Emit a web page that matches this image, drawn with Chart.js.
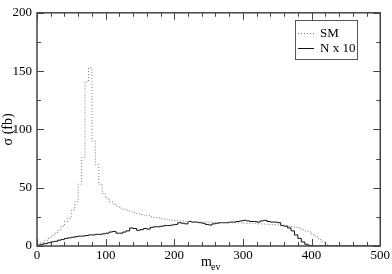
<!DOCTYPE html>
<html>
<head>
<meta charset="utf-8">
<script src="https://cdn.jsdelivr.net/npm/chart.js@4.4.0/dist/chart.umd.min.js"></script>
<style>
html, body { margin: 0; padding: 0; background: #fff; }
</style>
</head>
<body>
<canvas id="c" width="392" height="274"></canvas>
<script>
// bin width in GeV, bins start at 0
const binWidth = 5;

// SM histogram (fb), one value per 5 GeV bin
const smValues = [
  0.5, 1.5, 3, 4.5, 6.5, 8.5, 11, 13.5, 17, 21,
  24, 31, 38, 53, 76, 141, 153, 90, 70, 53,
  45, 41, 38, 36, 34, 32.5, 31.5, 30.5, 29.5, 28.5,
  27.5, 27, 26.5, 26, 25, 24.5, 24, 23.5, 23, 22.5,
  22, 22, 21.5, 21.5, 21, 21, 21, 20.5, 20.5, 20.5,
  20.5, 20.3, 20.3, 20, 20, 20, 20, 20, 20, 19.8,
  19.8, 19.5, 19.5, 19.5, 19.3, 19, 19, 18.8, 18.5, 18.5,
  18.2, 18, 18, 17.5, 17, 16.5, 16, 15.5, 14, 13,
  12, 10, 8, 5.5, 3.5, 1
];

// N x 10 histogram (fb)
const nValues = [
  0.3, 0.8, 1.5, 2, 2.8, 3.5, 4, 5, 5.5, 6.5,
  7, 7.5, 8, 8.5, 8.5, 9, 9.5, 9.5, 10, 10,
  10.5, 11, 12, 12.5, 11, 11, 12, 13, 15.5, 15,
  13.5, 14, 15, 14.5, 16, 16.5, 16.5, 17, 17.5, 17.5,
  18, 18.5, 20, 19.5, 19, 21, 20.5, 20.5, 20, 19.5,
  18.5, 18, 19, 19.5, 20, 20, 20, 20.5, 20.5, 21,
  21.5, 22, 21.5, 21, 21, 20.5, 21.5, 22, 21, 20.5,
  20.5, 20, 17.5, 17, 15.5, 13, 9.5, 6.5, 3.5, 1.5,
  0.5
];

const xTicks = [0, 100, 200, 300, 400, 500];
const yTicks = [0, 50, 100, 150, 200];

const serif = "'Liberation Serif', 'DejaVu Serif', serif";

// histogram as steps: one point per bin edge
const toSteps = (vals) => vals.map((v, i) => ({ x: i * binWidth, y: v }))
  .concat([{ x: vals.length * binWidth, y: 0 }, { x: 500, y: 0 }]);

// frame, inward ticks, x title and legend
const framePlugin = {
  id: 'frame',
  afterDraw(chart) {
    const ctx = chart.ctx;
    const a = chart.chartArea;
    const xs = chart.scales.x, ys = chart.scales.y;
    ctx.save();
    ctx.strokeStyle = '#444';
    ctx.lineWidth = 1.5;
    ctx.strokeRect(a.left, a.top, a.right - a.left, a.bottom - a.top);

    ctx.lineWidth = 1;
    ctx.beginPath();
    for (let v = 0; v <= 500; v += 20) {
      const px = Math.round(xs.getPixelForValue(v)) + 0.5;
      const len = v % 100 === 0 ? 7 : 4;
      ctx.moveTo(px, a.bottom); ctx.lineTo(px, a.bottom - len);
      ctx.moveTo(px, a.top); ctx.lineTo(px, a.top + len);
    }
    for (let v = 0; v <= 200; v += 25) {
      const py = Math.round(ys.getPixelForValue(v)) + 0.5;
      const len = v % 50 === 0 ? 7 : 4;
      ctx.moveTo(a.left, py); ctx.lineTo(a.left + len, py);
      ctx.moveTo(a.right, py); ctx.lineTo(a.right - len, py);
    }
    ctx.stroke();

    // x title m_ev
    ctx.fillStyle = '#000';
    ctx.textBaseline = 'alphabetic';
    ctx.font = '14px ' + serif;
    ctx.fillText('m', 201, 266);
    ctx.font = '10px ' + serif;
    ctx.fillText('ev', 211, 270);

    // legend
    ctx.strokeStyle = '#555';
    ctx.lineWidth = 1;
    ctx.strokeRect(295.5, 20.5, 62, 39);
    ctx.font = '13px ' + serif;
    ctx.textBaseline = 'middle';
    const rows = [{ y: 33, ds: chart.data.datasets[0] }, { y: 48, ds: chart.data.datasets[1] }];
    rows.forEach(r => {
      ctx.beginPath();
      ctx.strokeStyle = r.ds.borderColor;
      ctx.lineWidth = r.ds.borderWidth;
      ctx.setLineDash(r.ds.borderDash || []);
      ctx.moveTo(298, r.y + 0.5); ctx.lineTo(314, r.y + 0.5);
      ctx.stroke();
      ctx.setLineDash([]);
      ctx.fillText(r.ds.label, 320, r.y + 1);
    });
    ctx.restore();
  }
};

new Chart(document.getElementById('c'), {
  type: 'line',
  data: {
    datasets: [
      {
        label: 'SM',
        data: toSteps(smValues),
        stepped: 'after',
        borderColor: '#777',
        borderWidth: 1,
        borderDash: [1, 2],
        pointRadius: 0,
        fill: false
      },
      {
        label: 'N x 10',
        data: toSteps(nValues),
        stepped: 'after',
        borderColor: '#111',
        borderWidth: 1,
        pointRadius: 0,
        fill: false
      }
    ]
  },
  options: {
    responsive: false,
    animation: false,
    layout: { padding: { left: 0, right: 10, top: 5, bottom: 0 } },
    plugins: { legend: { display: false }, tooltip: { enabled: false } },
    scales: {
      x: {
        type: 'linear',
        min: 0, max: 500,
        grid: { display: false, drawTicks: false },
        border: { display: false },
        afterBuildTicks: (s) => { s.ticks = xTicks.map(v => ({ value: v })); },
        afterFit: (s) => { s.height = 28; },
        ticks: { color: '#000', font: { family: serif, size: 13 }, padding: 2, maxRotation: 0 }
      },
      y: {
        min: 0, max: 200,
        grid: { display: false, drawTicks: false },
        border: { display: false },
        afterBuildTicks: (s) => { s.ticks = yTicks.map(v => ({ value: v })); },
        afterFit: (s) => { s.width = 37; },
        title: { display: true, text: 'σ (fb)', color: '#000', font: { family: serif, size: 14 }, padding: 0 },
        ticks: { color: '#000', font: { family: serif, size: 13 }, padding: 5 }
      }
    }
  },
  plugins: [framePlugin]
});
</script>
</body>
</html>
